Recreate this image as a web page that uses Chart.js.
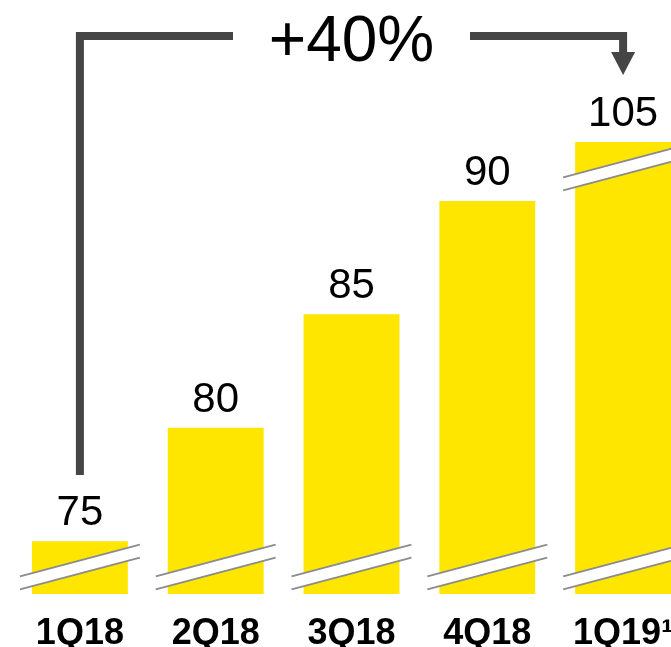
<!DOCTYPE html>
<html>
<head>
<meta charset="utf-8">
<script src="https://cdn.jsdelivr.net/npm/chart.js@4/dist/chart.umd.min.js"></script>
<style>
  html, body { margin: 0; padding: 0; background: #fff; overflow: hidden; }
  #wrap { width: 700px; height: 647px; }
</style>
</head>
<body>
<div id="wrap"><canvas id="growthChart" width="700" height="647"></canvas></div>
<script>
const quarters = ['1Q18', '2Q18', '3Q18', '4Q18', '1Q19¹'];
const values = [75, 80, 85, 90, 105];
const growthLabel = '+40%';
// visible window of the broken value axis
const axisMin = 72.67;
const axisMax = 92.6;

const YELLOW = '#FFE600';
const BREAK_GREY = '#8c8c8c';
const BRACKET = '#454545';
const FONT = '"Liberation Sans", Arial, sans-serif';

function drawBreak(ctx, x, y, halfLen) {
    const s = 0.265, g = 6.5;
    ctx.save();
    ctx.beginPath();
    ctx.moveTo(x - halfLen, y + halfLen * s - g);
    ctx.lineTo(x + halfLen, y - halfLen * s - g);
    ctx.lineTo(x + halfLen, y - halfLen * s + g);
    ctx.lineTo(x - halfLen, y + halfLen * s + g);
    ctx.closePath();
    ctx.fillStyle = '#fff';
    ctx.fill();
    ctx.strokeStyle = BREAK_GREY;
    ctx.lineWidth = 2;
    ctx.beginPath();
    ctx.moveTo(x - halfLen, y + halfLen * s - g);
    ctx.lineTo(x + halfLen, y - halfLen * s - g);
    ctx.moveTo(x - halfLen, y + halfLen * s + g);
    ctx.lineTo(x + halfLen, y - halfLen * s + g);
    ctx.stroke();
    ctx.restore();
}

const decorations = {
    id: 'decorations',
    afterDatasetsDraw(chart) {
        const { ctx, chartArea } = chart;
        const bars = chart.getDatasetMeta(0).data;
        const yScale = chart.scales.y;

        bars.forEach((bar, i) => {
            const half = bar.width / 2 + 12;
            drawBreak(ctx, bar.x, yScale.bottom - 27, half);
            if (values[i] > axisMax) drawBreak(ctx, bar.x, chartArea.top + 26, half);

            const top = Math.max(bar.y, chartArea.top);
            ctx.save();
            ctx.fillStyle = '#000';
            ctx.font = '42px ' + FONT;
            ctx.textAlign = 'center';
            ctx.textBaseline = 'alphabetic';
            ctx.fillText(String(values[i]), bar.x, top - 16);
            ctx.restore();
        });

        // growth bracket from first to last bar
        const first = bars[0], last = bars[bars.length - 1];
        const lineY = 36, textX = (first.x + last.x) / 2;
        ctx.save();
        ctx.strokeStyle = BRACKET;
        ctx.fillStyle = BRACKET;
        ctx.lineWidth = 8;
        ctx.lineCap = 'butt';
        ctx.lineJoin = 'miter';
        ctx.beginPath();
        ctx.moveTo(first.x, 475);
        ctx.lineTo(first.x, lineY);
        ctx.lineTo(233, lineY);
        ctx.stroke();
        ctx.beginPath();
        ctx.moveTo(470, lineY);
        ctx.lineTo(last.x, lineY);
        ctx.lineTo(last.x, 53);
        ctx.stroke();
        ctx.beginPath();
        ctx.moveTo(last.x - 12, 52);
        ctx.lineTo(last.x + 12, 52);
        ctx.lineTo(last.x, 75);
        ctx.closePath();
        ctx.fill();

        ctx.fillStyle = '#000';
        ctx.font = '64px ' + FONT;
        ctx.textAlign = 'center';
        ctx.textBaseline = 'alphabetic';
        ctx.fillText(growthLabel, textX, 61);
        ctx.restore();
    }
};

new Chart(document.getElementById('growthChart'), {
    type: 'bar',
    data: {
        labels: quarters,
        datasets: [{
            data: values,
            backgroundColor: YELLOW,
            borderWidth: 0,
            barPercentage: 0.706,
            categoryPercentage: 1
        }]
    },
    options: {
        responsive: false,
        animation: false,
        layout: { padding: { left: 12, right: 9, top: 142, bottom: 0 } },
        plugins: { legend: { display: false }, tooltip: { enabled: false } },
        scales: {
            x: {
                grid: { display: false, drawTicks: false },
                border: { display: false },
                afterFit(scale) { scale.height = 53; },
                ticks: {
                    color: '#000',
                    padding: 22,
                    font: { family: FONT, size: 36, weight: 'bold', lineHeight: 1 }
                }
            },
            y: {
                display: false,
                min: axisMin,
                max: axisMax
            }
        }
    },
    plugins: [decorations]
});
</script>
</body>
</html>
